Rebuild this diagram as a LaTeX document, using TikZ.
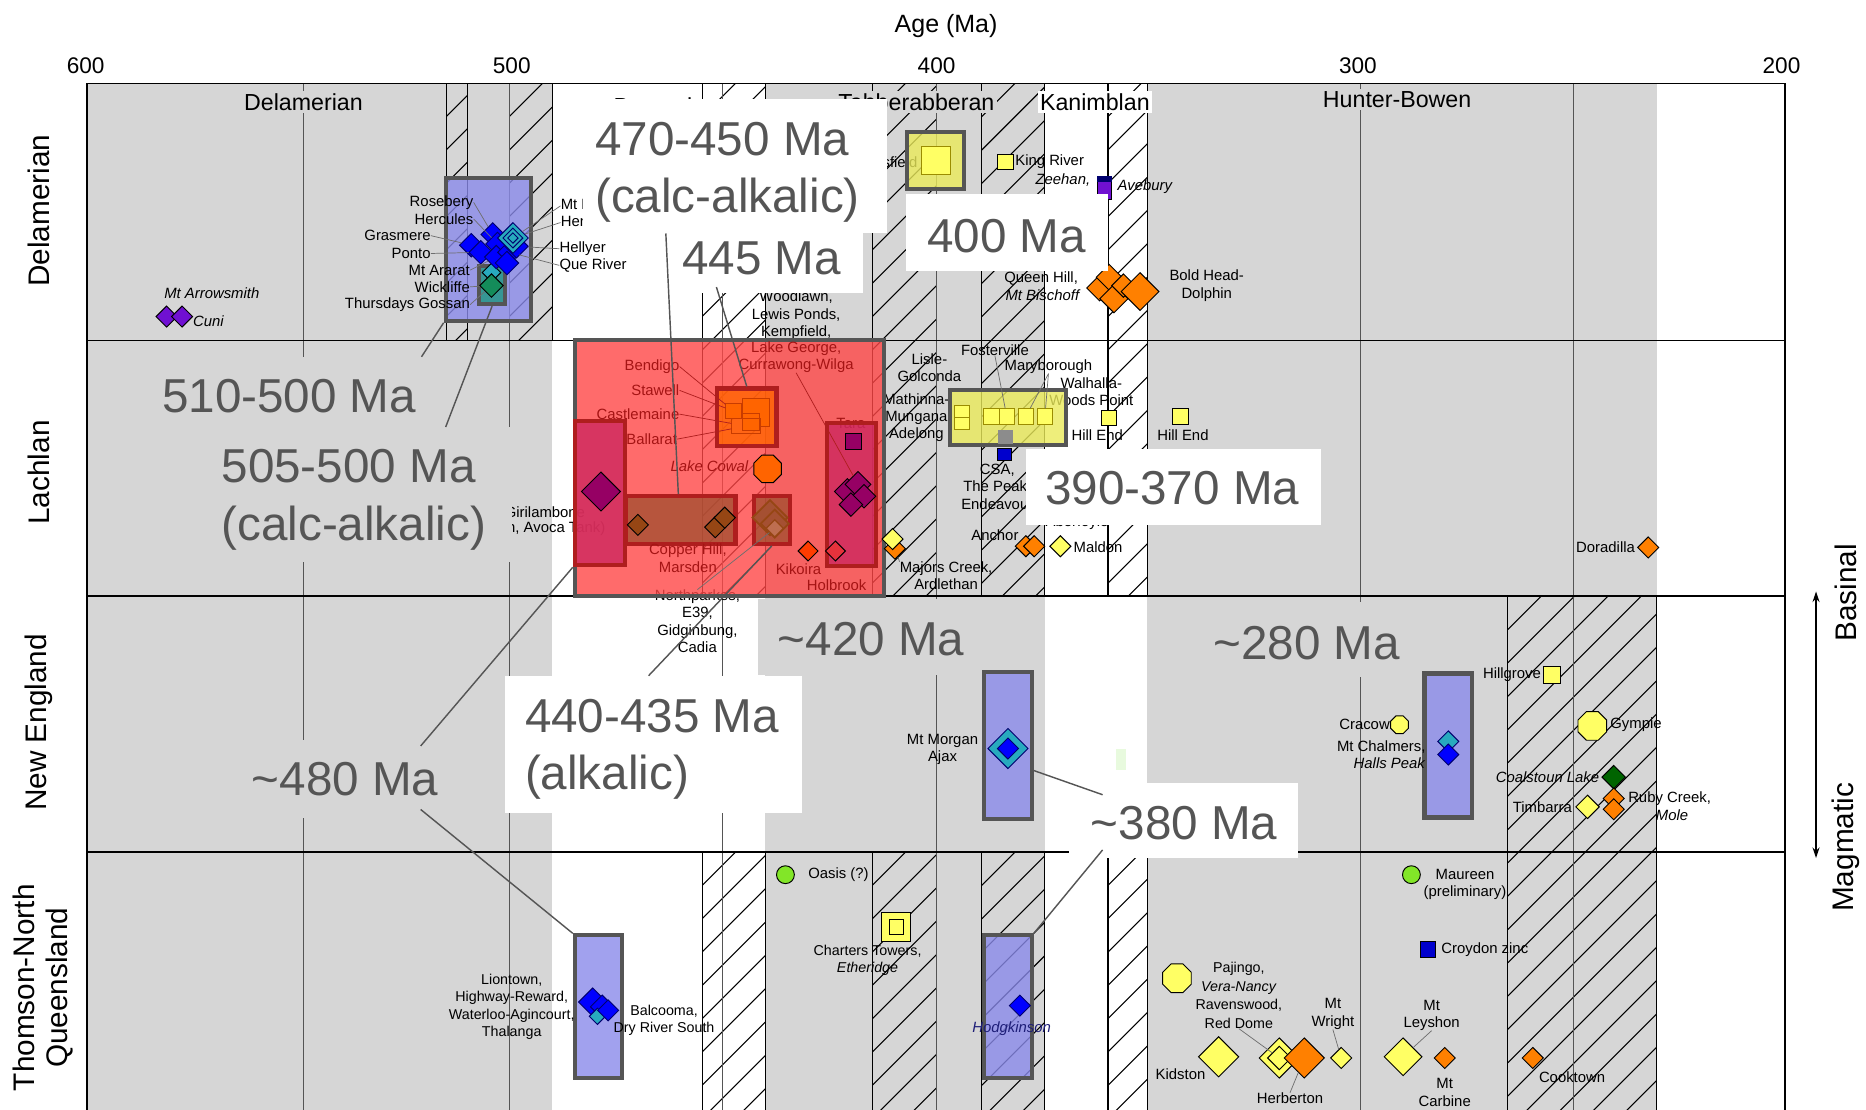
\documentclass[tikz,border=0pt]{standalone}
\usepackage{fontspec}
\setmainfont{Liberation Sans}
\usetikzlibrary{shapes.geometric,arrows.meta,positioning}

\definecolor{bggray}{RGB}{214,214,214}
\definecolor{boxgray}{RGB}{85,85,85}
\definecolor{lblgray}{RGB}{85,85,85}
\definecolor{leadgray}{RGB}{110,110,110}
\definecolor{midgray}{RGB}{140,140,140}
\definecolor{faintgreen}{RGB}{232,250,222}
\definecolor{perifill}{RGB}{138,138,234}
\definecolor{tealbox}{RGB}{30,150,128}
\definecolor{yboxfill}{RGB}{234,234,90}
\definecolor{olive}{RGB}{155,140,0}
\definecolor{redfill}{RGB}{255,70,70}
\definecolor{crimson}{RGB}{205,40,95}
\definecolor{dkred}{RGB}{175,30,30}
\definecolor{brownfill}{RGB}{165,80,50}
\definecolor{lightbrown}{RGB}{190,110,80}
\definecolor{boxorange}{RGB}{255,100,0}
\definecolor{dkorange}{RGB}{200,60,0}
\definecolor{redtext}{RGB}{165,20,20}
\definecolor{holbred}{RGB}{230,50,60}
\definecolor{kikred}{RGB}{255,60,0}
\definecolor{mblue}{RGB}{0,0,255}
\definecolor{dkblue}{RGB}{0,0,205}
\definecolor{navy}{RGB}{0,0,110}
\definecolor{hodgtext}{RGB}{30,30,120}
\definecolor{mcyan}{RGB}{40,170,190}
\definecolor{mpurple}{RGB}{112,16,210}
\definecolor{mmagenta}{RGB}{150,0,100}
\definecolor{mgreen}{RGB}{20,140,90}
\definecolor{dkgreen}{RGB}{0,100,0}
\definecolor{lgreen}{RGB}{130,230,40}
\definecolor{morange}{RGB}{255,128,0}
\definecolor{myellow}{RGB}{255,255,100}
\definecolor{mbrown}{RGB}{150,70,20}

\newcommand{\hatchband}[4]{%
  \begin{scope}
    \clip (#1,#3) rectangle (#2,#4);
    \foreach \k in {0,...,22}
      \draw[hatchline] (#1,#3+\k*28) -- ++(150,-150);
  \end{scope}
  \draw[bandedge] (#1,#3) -- (#1,#4) (#2,#3) -- (#2,#4);
}

\tikzset{
  lbl/.style={font=\fontsize{12.5}{14.5}\selectfont, inner sep=0pt, align=center},
  ilbl/.style={lbl, font=\fontsize{12.5}{14.5}\selectfont\itshape},
  rlbl/.style={lbl, text=redtext},
  hdr/.style={font=\fontsize{19.5}{22}\selectfont, inner sep=2pt},
  ticklbl/.style={font=\fontsize{19}{22}\selectfont, inner sep=0pt},
  rowlbl/.style={rotate=90, font=\fontsize{25}{28}\selectfont, inner sep=0pt, align=center},
  bigtxt/.style={font=\fontsize{40}{48}\selectfont, text=lblgray, inner sep=0pt, align=left},
  labbox/.style={fill=#1, inner sep=0pt},
  agebox/.style={draw=boxgray, line width=3.5pt, inner sep=0pt, fill opacity=0.8},
  dia/.style={diamond, draw=black, line width=0.8pt, inner sep=0pt, minimum size=#1},
  sq/.style={rectangle, draw=black, line width=0.8pt, inner sep=0pt, minimum size=#1},
  oct/.style={regular polygon, regular polygon sides=8, draw=black, line width=0.8pt, inner sep=0pt, minimum size=#1},
  disc/.style={circle, draw=black, line width=0.8pt, inner sep=0pt, minimum size=#1},
  hatchline/.style={line width=0.9pt},
  bandedge/.style={line width=1pt},
  ageline/.style={draw=boxgray, line width=0.7pt},
  rowline/.style={line width=1.3pt},
  leader/.style={draw=leadgray, line width=0.6pt},
  bigleader/.style={draw=lblgray, line width=1.2pt}
}

\begin{document}
\begin{tikzpicture}[x=1pt,y=-1pt]
\useasboundingbox (0,0) rectangle (1568,932);
\clip (0,0) rectangle (1568,932);
\fill[white] (0,0) rectangle (1568,932);

% shaded periods
\fill[bggray] (73,70) rectangle (464,945);
\fill[bggray] (643,70) rectangle (878,945);
\fill[bggray] (964,70) rectangle (1392,945);

% hatched bands
\hatchband{375}{393}{70}{286}
\hatchband{428}{464}{70}{286}
\hatchband{590}{643}{70}{501}
\hatchband{733}{787}{70}{501}
\hatchband{825}{878}{70}{501}
\hatchband{931}{964}{70}{501}
\hatchband{590}{643}{716}{945}
\hatchband{733}{787}{716}{945}
\hatchband{825}{878}{716}{945}
\hatchband{931}{964}{716}{945}
\hatchband{1267}{1392}{501}{945}

\foreach \xa in {255,428,607,787,1143,1322}
  \draw[ageline] (\xa,70) -- (\xa,945);
\fill[faintgreen] (938,629) rectangle (946,647);

% frame and belts
\foreach \ya in {286,501,716}
  \draw[rowline] (73,\ya) -- (1500,\ya);
\draw[rowline] (73,945) -- (73,70) -- (1500,70) -- (1500,945);

% axis
\node[font=\fontsize{21}{24}\selectfont, inner sep=0pt] (agetitle) at (795,22) {Age (Ma)};
\node[ticklbl] (t600) at (72,55) {600};
\node[ticklbl] (t500) at (430,55) {500};
\node[ticklbl] (t400) at (787,55) {400};
\node[ticklbl] (t300) at (1141,55) {300};
\node[ticklbl] (t200) at (1497,55) {200};

% orogenies
\node[hdr, fill=bggray] (hdel) at (255,86) {Delamerian};
\node[hdr] (hben) at (566,89) {Benambran};
\node[hdr, fill=bggray] (htab) at (770,86) {Tabberabberan};
\node[hdr, fill=white] (hkan) at (920,86) {Kanimblan};
\node[hdr, fill=bggray] (hhb) at (1174,84) {Hunter-Bowen};

% belts
\node[rowlbl] (rdel) at (33,177) {Delamerian};
\node[rowlbl] (rlac) at (33,397) {Lachlan};
\node[rowlbl] (rne) at (33,607) {New England};
\node[rowlbl] (rtnq) at (36,830) {Thomson-North\\Queensland};
\node[rowlbl] (basinal) at (1551,498) {Basinal};
\node[rowlbl] (magmatic) at (1551,712) {Magmatic};
\coordinate (arrtop) at (1526,497);
\coordinate (arrbot) at (1526,721);
\draw[{Stealth[length=9pt,width=6pt]}-{Stealth[length=9pt,width=6pt]}, line width=1.1pt] (arrtop) -- (arrbot);

%%% Delamerian belt
\node[dia=18, fill=mpurple] (cuni1) at (140,266) {};
\node[dia=18, fill=mpurple] (cuni2) at (153,266) {};
\node[ilbl, anchor=west] (lcuni) at (162,270) {Cuni};
\node[ilbl] (larrow) at (178,246) {Mt Arrowsmith};

\node[agebox, fill=perifill, minimum width=72, minimum height=120] (boxdel) at (410.5,209.5) {};
\node[agebox, fill=tealbox, minimum width=22, minimum height=32] (boxteal) at (413.5,239.5) {};
\node[dia=16, fill=mcyan] (tdia1) at (413,229) {};
\node[dia=20, fill=mgreen] (tdia2) at (413,240) {};
\node[dia=20, draw=navy, fill=mblue] (bd1) at (396,206) {};
\node[dia=20, draw=navy, fill=mblue] (bd2) at (404,212) {};
\node[dia=20, draw=navy, fill=mblue] (bd3) at (414,197) {};
\node[dia=20, draw=navy, fill=mblue] (bd4) at (418,205) {};
\node[dia=20, draw=navy, fill=mblue] (bd5) at (417,216) {};
\node[dia=20, draw=navy, fill=mblue] (bd6) at (428,212) {};
\node[dia=20, draw=navy, fill=mblue] (bd7) at (434,207) {};
\node[dia=20, draw=navy, fill=mblue] (bd8) at (426,221) {};
\node[dia=26, draw=navy, fill=mcyan] (cd1) at (431,200) {};
\node[dia=17, draw=navy, fill=mcyan] (cd2) at (431,200) {};
\node[dia=9, draw=navy, fill=mcyan] (cd3) at (431,200) {};

\node[lbl, anchor=east] (lros) at (398,170) {Rosebery};
\node[lbl, anchor=east] (lher) at (398,184) {Hercules};
\node[lbl, anchor=east] (lgra) at (362,198) {Grasmere};
\node[lbl, anchor=east] (lpon) at (362,213) {Ponto};
\node[lbl, anchor=east] (lara) at (395,227) {Mt Ararat};
\node[lbl, anchor=east] (lwic) at (395,241) {Wickliffe};
\node[lbl, anchor=east] (lthu) at (395,256) {Thursdays Gossan};
\node[lbl, anchor=west] (llye) at (471,173) {Mt Lyell};
\node[lbl, anchor=west] (lhen) at (471,187) {Henty};
\node[lbl, anchor=west] (lhel) at (470,209) {Hellyer};
\node[lbl, anchor=west] (lque) at (470,223) {Que River};
\draw[leader] (lros.east) -- (bd3);
\draw[leader] (lher.east) -- (bd4);
\draw[leader] (lgra.east) -- (bd1);
\draw[leader] (lpon.east) -- (bd2);
\draw[leader] (lara.east) -- (bd5);
\draw[leader] (lwic.east) -- (tdia2);
\draw[leader] (lthu.east) -- (tdia2);
\draw[leader] (llye.west) -- (cd1);
\draw[leader] (lhen.west) -- (cd1);
\draw[leader] (lhel.west) -- (bd7);
\draw[leader] (lque.west) -- (bd6);

\node[lbl, anchor=east] (lbea) at (771,136) {Beaconsfield};
\node[agebox, fill=yboxfill, minimum width=48, minimum height=48] (boxbea) at (786,135) {};
\node[sq=24, draw=olive, fill=myellow] (sqbea) at (786.5,135) {};
\node[sq=13, fill=myellow] (sqking) at (845,136) {};
\node[lbl, anchor=west] (lking) at (853,136) {King River};
\node[ilbl, anchor=west] (lzee) at (870,151) {Zeehan,};
\node[rectangle, draw=black, line width=0.8pt, fill=mpurple, minimum width=12, minimum height=20, inner sep=0pt] (sqave) at (928,158) {};
\fill[navy] (922,148) rectangle (934,153);
\node[ilbl, anchor=west] (lave) at (939,157) {Avebury};

\node[dia=22, fill=morange] (qh1) at (924,242) {};
\node[dia=22, fill=morange] (qh2) at (932,233) {};
\node[dia=24, fill=morange] (qh3) at (936,251) {};
\node[dia=20, fill=morange] (qh4) at (944,240) {};
\node[dia=32, fill=morange] (bhd) at (958,245) {};
\node[lbl, anchor=east] (lqh) at (906,234) {Queen Hill,};
\node[ilbl, anchor=east] (lbis) at (907,248) {Mt Bischoff};
\node[lbl] (lbhd) at (1014,240) {Bold Head-\\Dolphin};

\node[lbl] (lwood) at (669,265) {Woodlawn,\\Lewis Ponds,\\Kempfield,};

%%% Lachlan belt
\node[lbl, anchor=west] (lgiri) at (424,430) {Girilambone};
\node[lbl, anchor=west] (lavoca) at (426,444) {n, Avoca Tank)};
\node[lbl] (lnorth) at (586,522) {Northparkes,\\E39,\\Gidginbung,\\Cadia};
\node[lbl] (llisle) at (781,309) {Lisle-\\Golconda};
\node[lbl] (lmath) at (770,351) {Mathinna-\\Mungana\\Adelong};
\node[lbl] (lfos) at (836,294) {Fosterville};
\node[lbl] (lmar) at (881,308) {Maryborough};
\node[lbl] (lwal) at (917,329) {Walhalla-\\Woods Point};
\node[lbl] (lcsa) at (838,409) {CSA,\\The Peak,\\Endeavour};
\node[lbl] (labe) at (905,439) {Aberfoyle};

\node[agebox, fill=redfill, minimum width=260, minimum height=215] (boxred) at (613,393.5) {};
\node[agebox, draw=dkred, fill=crimson, minimum width=42, minimum height=121] (boxgiri) at (504,414.5) {};
\node[dia=33, fill=mmagenta] (giri) at (505,413) {};
\node[agebox, draw=dkred, fill=brownfill, minimum width=92, minimum height=40] (boxcopper) at (572,437) {};
\node[dia=18, fill=mbrown] (cop1) at (536,441) {};
\node[dia=18, fill=mbrown] (cop2) at (601,443) {};
\node[dia=18, fill=mbrown] (cop3) at (609,435) {};
\node[agebox, draw=dkred, fill=brownfill, minimum width=30, minimum height=40] (boxcadia) at (648.5,437) {};
\node[dia=30, draw=mbrown, line width=1.5pt, fill=brownfill] (cad1) at (647,435) {};
\node[dia=24, draw=mbrown, line width=1.5pt, fill=brownfill] (cad2) at (651,440) {};
\node[dia=15, draw=mbrown, line width=1pt, fill=lightbrown] (cad3) at (651,444) {};
\node[agebox, draw=dkred, fill=boxorange, minimum width=50, minimum height=48] (boxbend) at (627.5,350.5) {};
\node[sq=13, draw=dkorange, fill=boxorange] (bs1) at (616.5,345.5) {};
\node[sq=23, draw=dkorange, fill=boxorange] (bs2) at (635,346.5) {};
\node[sq=14, draw=dkorange, fill=boxorange] (bs3) at (631,354.5) {};
\node[rectangle, draw=dkorange, line width=0.8pt, minimum width=24, minimum height=12, inner sep=0pt] (bs4) at (627,358) {};
\node[rlbl, anchor=east] (lben) at (571,308) {Bendigo};
\node[rlbl, anchor=east] (lsta) at (571,328) {Stawell};
\node[rlbl, anchor=east] (lcas) at (571,348) {Castlemaine};
\node[rlbl, anchor=east] (lbal) at (569,369) {Ballarat};
\draw[leader, draw=dkred] (lben.east) -- (bs1);
\draw[leader, draw=dkred] (lsta.east) -- (bs1);
\draw[leader, draw=dkred] (lcas.east) -- (bs4);
\draw[leader, draw=dkred] (lbal.east) -- (bs4);
\node[rlbl] (llake) at (669,300) {Lake George,\\Currawong-Wilga};
\node[ilbl, text=redtext, anchor=east] (lcow) at (629,392) {Lake Cowal};
\node[oct=25, fill=boxorange] (cowal) at (645,394) {};
\node[rlbl] (ltara) at (715,356) {Tara};
\node[agebox, draw=dkred, fill=crimson, minimum width=41, minimum height=120] (boxtara) at (715.5,415.5) {};
\node[sq=13, fill=mmagenta] (sqtara) at (717,371) {};
\node[dia=22, fill=mmagenta] (ta1) at (712,413) {};
\node[dia=22, fill=mmagenta] (ta2) at (721,407) {};
\node[dia=20, fill=mmagenta] (ta3) at (726,417) {};
\node[dia=20, fill=mmagenta] (ta4) at (715,424) {};
\node[dia=17, fill=holbred] (holb) at (702,463) {};
\node[dia=17, fill=kikred] (kik) at (679,463) {};
\draw[leader, draw=dkred] (llake.south) -- (ta2);
\node[rlbl] (lcopper) at (578,469) {Copper Hill,\\Marsden};
\node[rlbl] (lkik) at (671,478) {Kikoira};
\node[rlbl] (lholb) at (703,492) {Holbrook};
\draw[leader] (lnorth.north) -- (cad3);

\node[agebox, fill=yboxfill, minimum width=98, minimum height=46] (boxfos) at (847,351) {};
\node[rectangle, draw=olive, line width=0.8pt, fill=myellow, minimum width=13, minimum height=10, inner sep=0pt] (fs1) at (808.5,345.5) {};
\node[rectangle, draw=olive, line width=0.8pt, fill=myellow, minimum width=13, minimum height=10, inner sep=0pt] (fs2) at (808.5,355.5) {};
\node[sq=13, draw=olive, fill=myellow] (fs3) at (833,350) {};
\node[sq=13, draw=olive, fill=myellow] (fs4) at (846,350) {};
\node[sq=13, draw=olive, fill=myellow] (fs5) at (862,350) {};
\node[sq=13, draw=olive, fill=myellow] (fs6) at (878,350) {};
\node[sq=12, draw=none, fill=midgray] (fs7) at (845,367) {};
\node[rectangle, draw=black, line width=0.8pt, fill=dkblue, minimum width=12, minimum height=10, inner sep=0pt] (sqcsa) at (844,382) {};
\draw[leader] (lfos.south) -- (fs4);
\draw[leader] (lmar.south) -- (fs5);
\draw[leader] (lmar.south) -- (fs6);
\node[sq=13, fill=myellow] (sqhe1) at (932,351) {};
\node[lbl] (lhe1) at (922,366) {Hill End};
\node[sq=13, fill=myellow] (sqhe2) at (992,350) {};
\node[lbl] (lhe2) at (994,366) {Hill End};

\node[dia=18, fill=morange] (maj2) at (752,461) {};
\node[dia=18, fill=myellow] (maj1) at (750,453) {};
\node[lbl] (lmaj) at (795,484) {Majors Creek,\\Ardlethan};
\draw[leader] (lmaj.north west) -- (maj2);
\node[dia=18, fill=morange] (anc1) at (862,459) {};
\node[dia=18, fill=morange] (anc2) at (869,459) {};
\node[lbl] (lanc) at (836,450) {Anchor};
\node[dia=18, fill=myellow] (mald) at (891,459) {};
\node[lbl, anchor=west] (lmald) at (902,460) {Maldon};
\node[dia=18, fill=morange] (dora) at (1385,460) {};
\node[lbl, anchor=east] (ldora) at (1374,460) {Doradilla};

%%% New England belt
\node[agebox, fill=perifill, minimum width=40, minimum height=123] (boxmorgan) at (847,626.5) {};
\node[dia=34, draw=navy, fill=mcyan] (morg1) at (847,629) {};
\node[dia=18, draw=navy, fill=mblue] (morg2) at (847,629) {};
\node[lbl] (lmorg) at (792,630) {Mt Morgan\\Ajax};
\node[agebox, fill=perifill, minimum width=40, minimum height=121] (boxchal) at (1217,626.5) {};
\node[dia=18, draw=navy, fill=mcyan] (chal1) at (1217,623) {};
\node[dia=18, draw=navy, fill=mblue] (chal2) at (1217,634) {};
\node[oct=16, fill=myellow] (crac) at (1176,609) {};
\node[lbl, anchor=east] (lcrac) at (1168,609) {Cracow};
\node[lbl, anchor=east, align=right] (lchal) at (1198,634) {Mt Chalmers,\\\textit{Halls Peak}};
\node[sq=14, fill=myellow] (sqhill) at (1304,567) {};
\node[lbl, anchor=east] (lhill) at (1295,567) {Hillgrove};
\node[oct=26, fill=myellow] (gymp) at (1338,610) {};
\node[lbl, anchor=west] (lgymp) at (1353,609) {Gympie};
\node[dia=20, fill=dkgreen] (coal) at (1356,653) {};
\node[ilbl, anchor=east] (lcoal) at (1344,653) {Coalstoun Lake};
\node[dia=20, fill=myellow] (timb) at (1334,678) {};
\node[lbl, anchor=east] (ltimb) at (1321,678) {Timbarra};
\node[dia=18, fill=morange] (ruby1) at (1356,671) {};
\node[dia=18, fill=morange] (ruby2) at (1356,680) {};
\node[lbl, anchor=west] (lruby) at (1368,671) {Ruby Creek,};
\node[ilbl] (lmole) at (1405,685) {Mole};

%%% Thomson-North Queensland belt
\node[agebox, fill=perifill, minimum width=40, minimum height=120] (boxlion) at (503,846) {};
\node[dia=24, draw=navy, fill=mblue] (lio1) at (498,842) {};
\node[dia=20, draw=navy, fill=mblue] (lio2) at (506,846) {};
\node[dia=14, draw=navy, fill=mcyan] (lio3) at (502,854) {};
\node[dia=18, draw=navy, fill=mblue] (lio4) at (511,849) {};
\node[lbl, font=\fontsize{12}{14.3}\selectfont] (llion) at (430,846) {Liontown,\\Highway-Reward,\\Waterloo-Agincourt,\\Thalanga};
\node[lbl, font=\fontsize{12}{14.3}\selectfont] (lbalc) at (558,857) {Balcooma,\\Dry River South};
\node[disc=15, fill=lgreen] (oasis) at (660,735) {};
\node[lbl, anchor=west] (loasis) at (679,735) {Oasis (?)};
\node[sq=24, fill=myellow] (chart1) at (753,779) {};
\node[sq=12, fill=myellow] (chart2) at (753,779) {};
\node[lbl, font=\fontsize{12}{14.3}\selectfont] (lchart) at (729,807) {Charters Towers,\\\textit{Etheridge}};
\node[agebox, fill=perifill, minimum width=40, minimum height=120] (boxhodg) at (847,846) {};
\node[dia=18, draw=navy, fill=mblue] (hodg) at (857,845) {};
\node[ilbl, text=hodgtext] (lhodg) at (850,864) {Hodgkinson};
\node[oct=26, fill=myellow] (paj) at (989,822) {};
\node[lbl, font=\fontsize{12}{15.5}\selectfont] (lpaj) at (1041,836.5) {Pajingo,\\\textit{Vera-Nancy}\\Ravenswood,\\Red Dome};
\node[dia=34, fill=myellow] (kid) at (1024,888) {};
\node[lbl] (lkid) at (992,903) {Kidston};
\node[dia=34, fill=myellow] (herb1) at (1075,889) {};
\node[dia=20, fill=myellow] (herb2) at (1075,889) {};
\node[dia=34, fill=morange] (herb3) at (1096,889) {};
\node[lbl] (lherb) at (1084,923) {Herberton};
\draw[leader] (lpaj.south) -- (herb2);
\draw[leader] (lherb.north) -- (herb3);
\node[dia=18, fill=myellow] (wri) at (1127,889) {};
\node[lbl] (lwri) at (1120,852) {Mt\\Wright};
\draw[leader] (lwri.south) -- (wri);
\node[dia=32, fill=myellow] (ley) at (1179,888) {};
\node[lbl] (lley) at (1203,853) {Mt\\Leyshon};
\draw[leader] (lley.south) -- (ley);
\node[dia=18, fill=morange] (carb) at (1214,889) {};
\node[lbl] (lcarb) at (1214,918) {Mt\\Carbine};
\node[disc=15, fill=lgreen] (maur) at (1186,735) {};
\node[lbl] (lmaur) at (1231,743) {Maureen\\(preliminary)};
\node[sq=13, fill=dkblue] (croy) at (1200,798) {};
\node[lbl, anchor=west] (lcroy) at (1211,798) {Croydon zinc};
\node[dia=18, fill=morange] (cook) at (1288,889) {};
\node[lbl] (lcook) at (1321,905) {Cooktown};

%%% age annotations
\node[labbox=bggray, minimum width=249, minimum height=62] (b510) at (244.5,331) {};
\node[labbox=bggray, minimum width=261, minimum height=113] (b505) at (299.5,415.5) {};
\node[labbox=white, minimum width=255, minimum height=113] (b470) at (617.5,139.5) {};
\node[labbox=white, minimum width=170, minimum height=50] (b445) at (640,221) {};
\node[labbox=white, minimum width=170, minimum height=65] (b400) at (846,195.5) {};
\node[labbox=white, minimum width=248, minimum height=64] (b390) at (986,409) {};
\node[labbox=bggray, minimum width=163, minimum height=64] (b420) at (718.5,535) {};
\node[labbox=white, minimum width=250, minimum height=115] (b440) at (549,625.5) {};
\node[labbox=bggray, minimum width=191, minimum height=65] (b480) at (291.5,654.5) {};
\node[labbox=bggray, minimum width=170, minimum height=63] (b280) at (1095,537.5) {};
\node[labbox=white, minimum width=193, minimum height=63] (b380) at (994.5,689.5) {};

\draw[bigleader] ([xshift=-15pt]b510.north east) -- (boxdel.south west);
\draw[bigleader] ([xshift=75pt]b505.north) -- (boxteal.south);
\draw[bigleader] ([xshift=-58pt]b470.south) -- ([xshift=-2pt]boxcopper.north);
\draw[bigleader] ([xshift=-38pt,yshift=5pt]b445.south) -- (boxbend.north);
\draw[bigleader] ([xshift=-4pt]b440.north) -- (boxcadia.south);
\draw[bigleader] ([xshift=62pt,yshift=-5pt]b480.north) -- (boxgiri.south west);
\draw[bigleader] ([xshift=62pt,yshift=7pt]b480.south) -- (boxlion.north west);
\draw[bigleader] ([yshift=-21pt]boxmorgan.east) -- ([xshift=-68pt,yshift=-10pt]b380.north);
\draw[bigleader] ([xshift=-68pt,yshift=7pt]b380.south) -- (boxhodg.north east);

\node[bigtxt] (t510) at (243,333) {510-500 Ma};
\node[bigtxt, anchor=west] (t505) at (186,420) {505-500 Ma\\(calc-alkalic)};
\node[bigtxt, anchor=west] (t470) at (500,145) {470-450 Ma\\(calc-alkalic)};
\node[bigtxt] (t445) at (640,217) {445 Ma};
\node[bigtxt] (t400) at (846,198) {400 Ma};
\node[bigtxt] (t390) at (985,410) {390-370 Ma};
\node[bigtxt] (t420) at (732,537) {\textasciitilde420 Ma};
\node[bigtxt, anchor=west] (t440) at (441,630) {440-435 Ma\\(alkalic)};
\node[bigtxt] (t480) at (290,655) {\textasciitilde480 Ma};
\node[bigtxt] (t280) at (1098,540) {\textasciitilde280 Ma};
\node[bigtxt] (t380) at (995,692) {\textasciitilde380 Ma};
\end{tikzpicture}
\end{document}
